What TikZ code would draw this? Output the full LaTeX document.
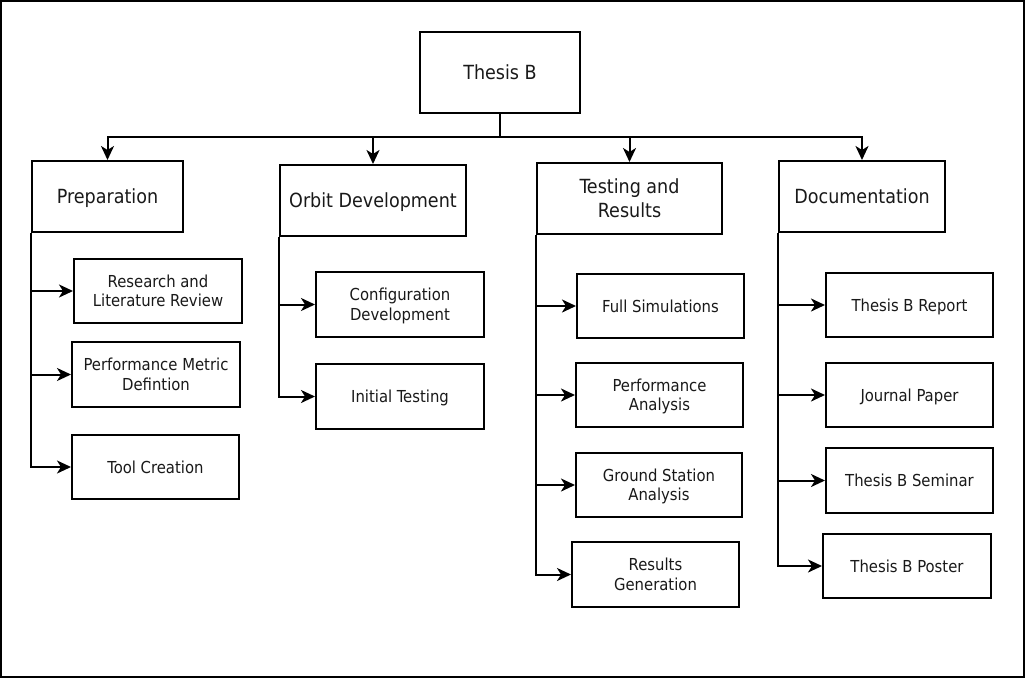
\documentclass[tikz,border=0pt]{standalone}
\usepackage{fontspec}
\setmainfont{DejaVu Sans Condensed}
\usetikzlibrary{arrows.meta}
\newcommand{\lbl}[1]{\raisebox{0pt}[\dimexpr\height-0.7\baselineskip+0.729em\relax][0pt]{\begin{tabular}[b]{@{}c@{}}#1\end{tabular}}}
\newcommand{\mybox}[7]{\node[#7, minimum width={#4-#2}, minimum height={#5-#3}] (#1) at ({(#2+#4)/2},{(#3+#5)/2}) {\lbl{#6}};}
\tikzset{
  box/.style={draw=black, line width=2pt, inner sep=0pt, text=black!90},
  mainbox/.style={box, font=\fontsize{19.5}{24}\selectfont},
  subbox/.style={box, font=\fontsize{16.5}{19.5}\selectfont},
  arr/.style={line width=2pt, -{Stealth[length=14pt,width=13pt,inset=4pt]}},
}
\begin{document}
\begin{tikzpicture}[x=1pt,y=-1pt]
\useasboundingbox (0,0) rectangle (1025,678);
\draw[line width=2pt] (1,1) rectangle (1024,677);
\mybox{thesis}{420}{32}{580}{113}{Thesis B}{mainbox}
\mybox{prep}{32}{161}{183}{232}{Preparation}{mainbox}
\mybox{orbit}{280}{165}{466}{236}{Orbit Development}{mainbox}
\mybox{test}{537}{163}{722}{234}{Testing and\\Results}{mainbox}
\mybox{doc}{779}{161}{945}{232}{Documentation}{mainbox}
\mybox{res}{74}{259}{242}{323}{Research and\\Literature Review}{subbox}
\mybox{perf}{72}{342}{240}{407}{Performance Metric\\Defintion}{subbox}
\mybox{tool}{72}{435}{239}{499}{Tool Creation}{subbox}
\mybox{conf}{316}{272}{484}{337}{Configuration\\Development}{subbox}
\mybox{init}{316}{364}{484}{429}{Initial Testing}{subbox}
\mybox{full}{577}{274}{744}{338}{Full Simulations}{subbox}
\mybox{pana}{576}{363}{743}{427}{Performance\\Analysis}{subbox}
\mybox{gsa}{576}{453}{742}{517}{Ground Station\\Analysis}{subbox}
\mybox{rgen}{572}{542}{739}{607}{Results\\Generation}{subbox}
\mybox{rep}{826}{273}{993}{337}{Thesis B Report}{subbox}
\mybox{jour}{826}{363}{993}{427}{Journal Paper}{subbox}
\mybox{sem}{826}{448}{993}{513}{Thesis B Seminar}{subbox}
\mybox{post}{823}{534}{991}{598}{Thesis B Poster}{subbox}
\coordinate (bus) at (499,137);
\foreach \t in {prep,orbit,test,doc}
  \draw[arr] (thesis.south) -- (thesis.south |- bus) -| (\t.north);
\foreach \p/\c in {prep/res,prep/perf,prep/tool,orbit/conf,orbit/init,test/full,test/pana,test/gsa,test/rgen,doc/rep,doc/jour,doc/sem,doc/post}
  \draw[arr] (\p.south west) |- (\c.west);
\end{tikzpicture}
\end{document}
